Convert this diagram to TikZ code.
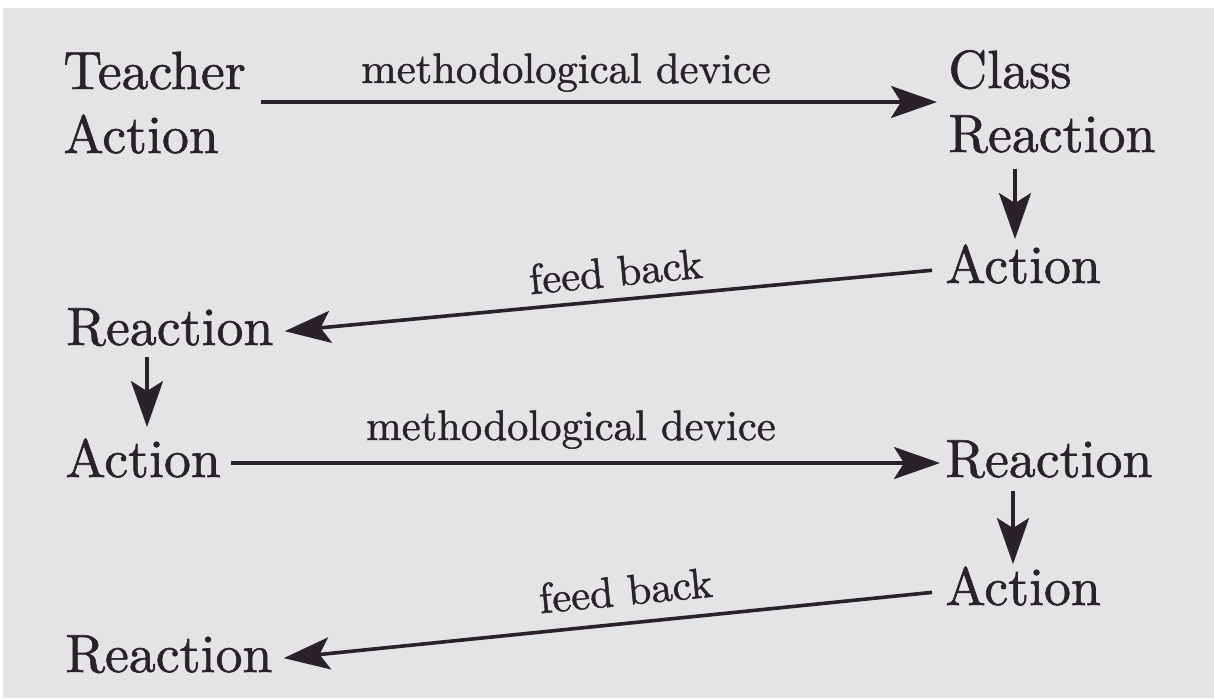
\documentclass[tikz,border=0pt]{standalone}
\usepackage{fontspec}
\setmainfont{lmroman10-regular}[Extension=.otf, FakeBold=1.1]
\usetikzlibrary{arrows.meta}
\definecolor{paper}{HTML}{E4E4E6}
\definecolor{ink}{HTML}{2A2228}
\tikzset{
  word/.style={inner sep=0pt, anchor=base west, text=ink, font=\fontsize{26.9}{32}\selectfont, align=left},
  lbl/.style={inner sep=0pt, anchor=base, text=ink, font=\fontsize{21.3}{26}\selectfont},
  arr/.style={draw=ink, line width=1.8pt, -{Stealth[length=23pt, width=16pt, inset=5pt]}},
}
\begin{document}
\begin{tikzpicture}[x=0.5pt, y=-0.5pt]
\useasboundingbox (0,0) rectangle (1214,698);
\fill[white] (0,0) rectangle (1214,698);
\fill[paper] (3,8) rectangle (1214,698);

\node[word] (ta) at (63,153) {Teacher\\Action};
\node[word] (cr) at (948,152) {Class\\Reaction};
\node[word] (a1) at (945,283) {Action};
\node[word] (r1) at (66,345) {Reaction};
\node[word] (a2) at (65,477) {Action};
\node[word] (r2) at (945,477) {Reaction};
\node[word] (a3) at (945,605) {Action};
\node[word] (r3) at (65,672) {Reaction};

\node[lbl] (m1) at (566,83) {methodological device};
\node[lbl, rotate=5.5] (f1) at (617,286) {feed back};
\node[lbl] (m2) at (571,440) {methodological device};
\node[lbl, rotate=5.5] (f2) at (627,605) {feed back};

\draw[arr, shorten <=7.5pt, shorten >=5.5pt] (ta.east |- 0,102) -- (cr.west |- 0,102);
\draw[arr, shorten <=7.5pt, shorten >=2.5pt] (cr.south -| 1015,0) -- (a1.north -| 1015,0);
\draw[arr, shorten <=6.5pt, shorten >=5.5pt] ([yshift=-2.5pt]a1.west) -- ([yshift=-2.5pt]r1.east);
\draw[arr, shorten <=5pt, shorten >=5.5pt] (r1.south -| 147,0) -- (a2.north -| 147,0);
\draw[arr, shorten <=5pt, shorten >=2.5pt] (a2.east |- 0,463) -- (r2.west |- 0,463);
\draw[arr, shorten <=6pt, shorten >=1pt] (r2.south -| 1013,0) -- (a3.north -| 1013,0);
\draw[arr, shorten <=6.5pt, shorten >=5.5pt] ([yshift=-2.5pt]a3.west) -- ([yshift=-2.5pt]r3.east);
\end{tikzpicture}
\end{document}
